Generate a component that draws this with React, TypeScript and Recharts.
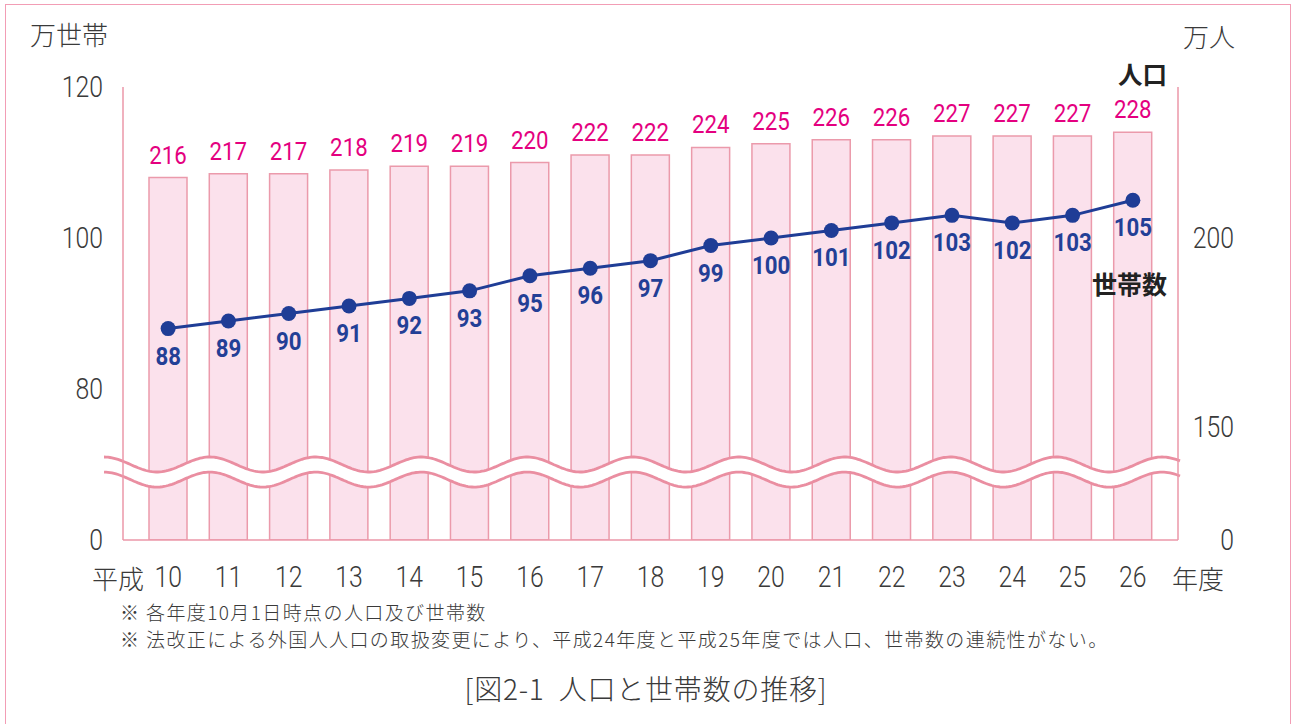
import React from 'react';
import { ComposedChart, Bar, Line, XAxis, YAxis, LabelList, ReferenceArea } from 'recharts';

// 平成10〜26年度
const YEARS = ['10', '11', '12', '13', '14', '15', '16', '17', '18', '19', '20', '21', '22', '23', '24', '25', '26'];
// 人口 (万人)
const POPULATION = [216, 217, 217, 218, 219, 219, 220, 222, 222, 224, 225, 226, 226, 227, 227, 227, 228];
// 世帯数 (万世帯)
const HOUSEHOLDS = [88, 89, 90, 91, 92, 93, 95, 96, 97, 99, 100, 101, 102, 103, 102, 103, 105];

// axes are broken: the lowest tick is printed as 0
const LEFT_TICKS = [60, 80, 100, 120];
const RIGHT_TICKS = [120, 150, 200];
const BREAK_RANGE = [68, 70]; // on the left axis

const NOTES = [
    '※ 各年度10月1日時点の人口及び世帯数',
    '※ 法改正による外国人人口の取扱変更により、平成24年度と平成25年度では人口、世帯数の連続性がない。',
];
const TITLE = '[図2-1  人口と世帯数の推移]';

const data = YEARS.map((year, i) => ({ year, population: POPULATION[i], households: HOUSEHOLDS[i] }));

const NUM_FONT = "Roboto, 'Noto Sans', sans-serif";
const JP_FONT = "'Noto Sans CJK JP', sans-serif";
const PINK_LINE = '#eb97a9';
const TEXT = '#3a3a3a';

// condensed numbers, like the original typeface
const NarrowText = ({ x, y, anchor = 'middle', size, weight = 400, fill, dy = '0', children }: any) => (
    <text
        transform={`translate(${x},${y}) scale(0.84,1)`}
        textAnchor={anchor}
        fontSize={size}
        fontWeight={weight}
        fontFamily={NUM_FONT}
        fill={fill}
        dy={dy}
    >
        {children}
    </text>
);

const LeftTick = (props: any) => {
    const { x, y, payload } = props;
    return (
        <NarrowText x={x} y={y} dy="0.355em" anchor="end" size={29.5} weight={300} fill={TEXT}>
            {payload.value === LEFT_TICKS[0] ? 0 : payload.value}
        </NarrowText>
    );
};

const RightTick = (props: any) => {
    const { x, y, payload } = props;
    return (
        <NarrowText x={x + 56} y={y} dy="0.355em" anchor="end" size={29.5} weight={300} fill={TEXT}>
            {payload.value === RIGHT_TICKS[0] ? 0 : payload.value}
        </NarrowText>
    );
};

const BottomTick = (props: any) => {
    const { x, y, payload } = props;
    return (
        <NarrowText x={x} y={y + 37} dy="0.355em" size={29.5} weight={300} fill={TEXT}>
            {payload.value}
        </NarrowText>
    );
};

const BarTopLabel = (props: any) => {
    const vb = props.viewBox || {};
    const x = (vb.x ?? props.x) + (vb.width ?? props.width) / 2;
    const y = vb.y ?? props.y;
    return (
        <NarrowText x={x} y={y - 14} size={26.5} fill="#e4007f">
            {props.value}
        </NarrowText>
    );
};

const DotLabel = (props: any) => {
    const vb = props.viewBox || {};
    const x = vb.x ?? props.x;
    const y = vb.y ?? props.y;
    return (
        <NarrowText x={x} y={y + 36} size={26.5} weight={700} fill="#233f96">
            {props.value}
        </NarrowText>
    );
};

// wavy double line marking the axis break
const WaveBreak = (props: any) => {
    const { x, y, width, height } = props;
    const x0 = x - 34;
    const x1 = x + width + 17;
    const period = 105.8;
    const amp = 7.5;
    const top: [number, number][] = [];
    const bottom: [number, number][] = [];
    for (let px = x0; px <= x1; px += 2) {
        const c = Math.cos((2 * Math.PI * (px - x0)) / period);
        top.push([px, y - amp * c]);
        bottom.push([px, y + height - amp * c]);
    }
    const toPath = (pts: [number, number][]) => pts.map((p, i) => `${i ? 'L' : 'M'}${p[0].toFixed(1)},${p[1].toFixed(1)}`).join('');
    const fill = toPath(top) + [...bottom].reverse().map((p) => `L${p[0].toFixed(1)},${p[1].toFixed(1)}`).join('') + 'Z';
    return (
        <g>
            <path d={fill} fill="#ffffff" stroke="none" />
            <path d={toPath(top)} fill="none" stroke="#ea8ea1" strokeWidth={2.8} />
            <path d={toPath(bottom)} fill="none" stroke="#ea8ea1" strokeWidth={2.8} />
        </g>
    );
};

export default function App() {
    return (
        <div style={{ position: 'absolute', left: 0, top: 0, width: 1292, height: 724, background: '#fff', overflow: 'hidden' }}>
            <div
                style={{
                    position: 'absolute',
                    left: 5,
                    top: 4,
                    width: 1284,
                    height: 800,
                    border: '1.5px solid #f29db5',
                    borderBottom: 'none',
                }}
            />
            <div style={{ position: 'absolute', left: 0, top: 0 }}>
                <ComposedChart width={1292} height={724} data={data} margin={{ top: 87, right: 0, bottom: 134, left: 0 }}>
                    <XAxis
                        dataKey="year"
                        height={50}
                        padding={{ left: 15, right: 15 }}
                        axisLine={{ stroke: PINK_LINE, strokeWidth: 1.5 }}
                        tickLine={false}
                        tickSize={0}
                        tickMargin={0}
                        tick={<BottomTick />}
                        interval={0}
                    />
                    <YAxis
                        yAxisId="left"
                        width={123}
                        domain={[60, 120]}
                        ticks={LEFT_TICKS}
                        allowDataOverflow
                        axisLine={{ stroke: PINK_LINE, strokeWidth: 1.5 }}
                        tickLine={false}
                        tickSize={0}
                        tickMargin={20}
                        tick={<LeftTick />}
                    />
                    <YAxis
                        yAxisId="right"
                        orientation="right"
                        width={114}
                        domain={[120, 240]}
                        ticks={RIGHT_TICKS}
                        allowDataOverflow
                        axisLine={{ stroke: PINK_LINE, strokeWidth: 1.5 }}
                        tickLine={false}
                        tickSize={0}
                        tickMargin={0}
                        tick={<RightTick />}
                    />
                    <Bar
                        yAxisId="right"
                        dataKey="population"
                        barSize={38}
                        fill="#fbe1ec"
                        stroke="#eb9aab"
                        strokeWidth={1.5}
                        isAnimationActive={false}
                    >
                        <LabelList dataKey="population" content={<BarTopLabel />} />
                    </Bar>
                    <ReferenceArea
                        yAxisId="left"
                        y1={BREAK_RANGE[0]}
                        y2={BREAK_RANGE[1]}
                        ifOverflow="visible"
                        shape={<WaveBreak />}
                        zIndex={350}
                    />
                    <Line
                        yAxisId="left"
                        dataKey="households"
                        stroke="#1f3d96"
                        strokeWidth={3}
                        dot={{ r: 7.5, fill: '#1f3d96', stroke: 'none' }}
                        activeDot={false}
                        isAnimationActive={false}
                    >
                        <LabelList dataKey="households" content={<DotLabel />} />
                    </Line>
                </ComposedChart>
            </div>
            <svg width={1292} height={724} style={{ position: 'absolute', left: 0, top: 0, pointerEvents: 'none' }}>
                <g fontFamily={JP_FONT} fill={TEXT} fontWeight={300} dominantBaseline="central">
                    <text x={30} y={33} fontSize={26}>万世帯</text>
                    <text x={1183} y={35} fontSize={26}>万人</text>
                    <text x={1118} y={73} fontSize={24.5} fontWeight="bold" fill="#222">人口</text>
                    <text x={1092} y={283} fontSize={25} fontWeight="bold" fill="#222">世帯数</text>
                    <text x={92} y={577} fontSize={26}>平成</text>
                    <text x={1172} y={577} fontSize={26}>年度</text>
                    {NOTES.map((note, i) => (
                        <text key={i} x={120} y={611 + i * 27} fontSize={19} letterSpacing={1.4}>{note}</text>
                    ))}
                    <text x={646} y={688} fontSize={28} letterSpacing={0.8} textAnchor="middle" style={{ whiteSpace: 'pre' }}>{TITLE}</text>
                </g>
            </svg>
        </div>
    );
}
